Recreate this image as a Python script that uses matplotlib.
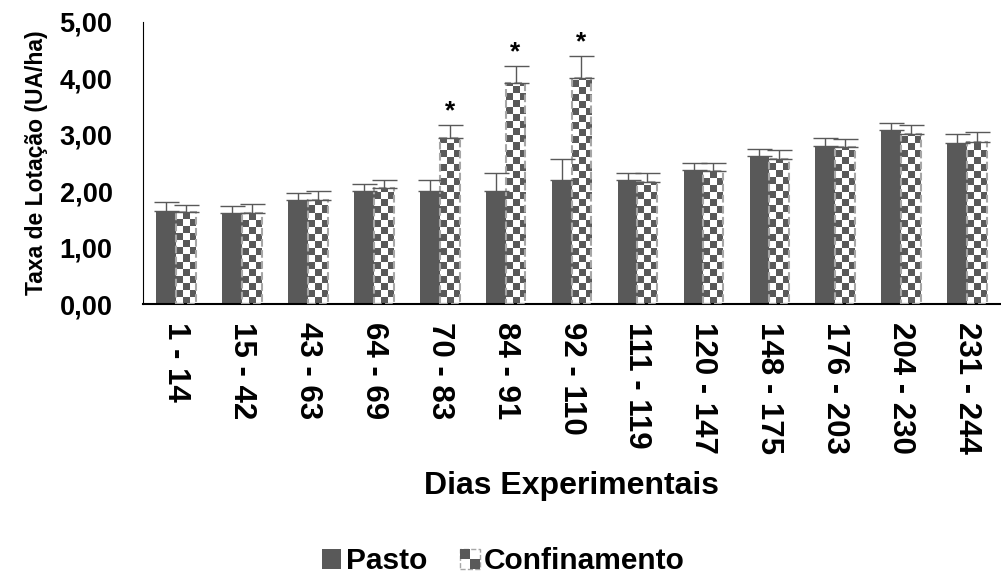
import numpy as np
import matplotlib
matplotlib.use('Agg')
import matplotlib.pyplot as plt
from matplotlib.patches import Patch, Rectangle
from matplotlib.legend_handler import HandlerBase
from matplotlib.colors import ListedColormap
from matplotlib.ticker import FuncFormatter

plt.rcParams['font.family'] = ['Liberation Sans', 'DejaVu Sans']
plt.rcParams['font.weight'] = 'bold'

periodos = ['1 - 14', '15 - 42', '43 - 63', '64 - 69', '70 - 83', '84 - 91', '92 - 110',
            '111 - 119', '120 - 147', '148 - 175', '176 - 203', '204 - 230', '231 - 244']
pasto = [1.65, 1.62, 1.85, 2.00, 2.00, 2.00, 2.20, 2.20, 2.38, 2.62, 2.80, 3.08, 2.85]
pasto_err = [0.16, 0.12, 0.12, 0.12, 0.20, 0.32, 0.37, 0.12, 0.12, 0.13, 0.15, 0.12, 0.17]
confin = [1.63, 1.62, 1.85, 2.05, 2.95, 3.92, 4.00, 2.17, 2.35, 2.57, 2.78, 3.02, 2.88]
confin_err = [0.12, 0.15, 0.15, 0.15, 0.22, 0.30, 0.40, 0.15, 0.15, 0.16, 0.15, 0.16, 0.17]
signif = [False, False, False, False, True, True, True, False, False, False, False, False, False]

cinza = '#595959'
borda = '#a6a6a6'


class CheckerHandler(HandlerBase):
    # small 2x2 checker icon for the legend
    def create_artists(self, legend, orig_handle, xdescent, ydescent, width, height, fontsize, trans):
        s = min(width, height)
        x0 = xdescent + (width - s) / 2
        y0 = -ydescent
        arts = [Rectangle((x0, y0), s, s, facecolor='white', edgecolor=borda,
                          linestyle='--', linewidth=1, transform=trans)]
        h = s / 2
        arts.append(Rectangle((x0, y0 + h), h, h, facecolor=cinza, edgecolor='none', transform=trans))
        arts.append(Rectangle((x0 + h, y0), h, h, facecolor=cinza, edgecolor='none', transform=trans))
        return arts


fig = plt.figure(figsize=(10.01, 5.76), dpi=100)
ax = fig.add_axes([0.143, 0.472, 0.856, 0.49])

x = np.arange(len(periodos))
w = 0.3
ax.bar(x - w / 2, pasto, w, color=cinza, zorder=2)
ax.errorbar(x - w / 2, pasto, yerr=[np.zeros(len(pasto)), pasto_err], fmt='none',
            ecolor=cinza, elinewidth=1, capsize=9, capthick=1, zorder=4)

bars = ax.bar(x + w / 2, confin, w, facecolor='none', edgecolor=borda,
              linestyle='--', linewidth=1.5, zorder=3)
ax.errorbar(x + w / 2, confin, yerr=[np.zeros(len(confin)), confin_err], fmt='none',
            ecolor=cinza, elinewidth=1, capsize=9, capthick=1, zorder=5)

# checkerboard fill for Confinamento bars
cx, cy = 0.105, 0.124
for b in bars:
    x0, x1 = b.get_x(), b.get_x() + b.get_width()
    h = b.get_height()
    nx = int(np.ceil((x1 - x0) / cx))
    ny = int(np.ceil(h / cy))
    grid = (np.add.outer(np.arange(ny), np.arange(nx)) % 2).astype(float)
    im = ax.imshow(grid, cmap=ListedColormap(['white', cinza]),
                   extent=[x0, x0 + nx * cx, 0, ny * cy], origin='lower',
                   interpolation='nearest', aspect='auto', zorder=2.5)
    im.set_clip_path(b)

for i in range(len(periodos)):
    if signif[i]:
        ax.text(x[i] + w / 2, confin[i] + confin_err[i] + 0.03, '*', ha='center',
                va='bottom', fontsize=19, fontweight='bold')

ax.set_xlim(-0.5, len(periodos) - 0.5)
ax.set_ylim(0, 5)
ax.set_yticks(np.arange(0, 5.01, 1))
ax.yaxis.set_major_formatter(FuncFormatter(lambda v, p: f'{v:.2f}'.replace('.', ',')))
ax.set_xticks(x)
ax.set_xticklabels(periodos, rotation=270, fontsize=22.5, fontweight='bold')
ax.tick_params(axis='y', length=0, labelsize=19.5, pad=22)
ax.tick_params(axis='x', length=0, pad=13)
ax.spines['top'].set_visible(False)
ax.spines['right'].set_visible(False)
ax.spines['left'].set_color('black')
ax.spines['bottom'].set_color('black')
ax.spines['bottom'].set_linewidth(1.5)

ax.set_ylabel('Taxa de Lotação (UA/ha)', fontsize=16.5, fontweight='bold', labelpad=8)
ax.set_xlabel('Dias Experimentais', fontsize=23, fontweight='bold', labelpad=12)

handles = [Patch(facecolor=cinza, label='Pasto'),
           Patch(facecolor='white', label='Confinamento')]
fig.legend(handles=handles, loc='center', bbox_to_anchor=(0.503, 0.026), ncol=2,
           frameon=False, fontsize=21.5, handlelength=0.65, handleheight=0.65,
           handletextpad=0.15, columnspacing=1.1,
           handler_map={handles[1]: CheckerHandler()})

fig.savefig('out.png', dpi=100)
